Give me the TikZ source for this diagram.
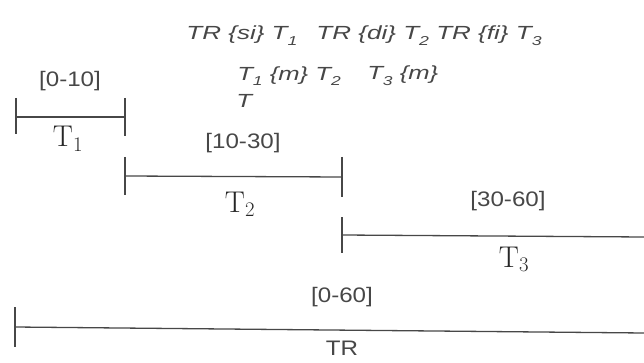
\documentclass[tikz,border=0pt]{standalone}
\usepackage{fontspec}
\setmainfont{Latin Modern Roman}
\newfontfamily\lsans{Liberation Sans}
\newcommand{\subi}[1]{\raisebox{-.3em}{\scalebox{.68}{#1}}}
\begin{document}
\begin{tikzpicture}[x=1pt,y=-1pt,
  bar/.style={draw=black!72,line width=1.3pt},
  rng/.style={font=\lsans\fontsize{21}{23}\selectfont,text=black!72,inner sep=0pt,xscale=1.15},
  lab/.style={font=\fontsize{30}{32}\selectfont,text=black!85,inner sep=0pt,anchor=base},
  rel/.style={font=\lsans\itshape\fontsize{19}{21}\selectfont,text=black!72,inner sep=0pt,xscale=1.35}]
\useasboundingbox (0,0) rectangle (644,363);
% coordinates of bars
\coordinate (a1) at (16,117);  \coordinate (b1) at (125,117);
\coordinate (a2) at (125,176); \coordinate (b2) at (342,177);
\coordinate (a3) at (342,235); \coordinate (b3) at (644,237);
\coordinate (a4) at (15,327);  \coordinate (b4) at (644,333);
% bars
\draw[bar] (a1) -- (b1);
\draw[bar] (a1) ++(0,-19) -- ++(0,36);
\draw[bar] (b1) ++(0,-19) -- ++(0,38);
\draw[bar] (a2) -- (b2);
\draw[bar] (a2) ++(0,-19) -- ++(0,38);
\draw[bar] (b2) ++(0,-20) -- ++(0,40);
\draw[bar] (a3) -- (b3);
\draw[bar] (a3) ++(0,-18) -- ++(0,36);
\draw[bar] (a4) -- (b4);
\draw[bar] (a4) ++(0,-20) -- ++(0,40);
% labels
\node[rng] (r1) at (70,81) {[0-10]};
\node[lab] (l1) at (68,147) {T$_1$};
\node[rng] (r2) at (243,143) {[10-30]};
\node[lab] (l2) at (240,212) {T$_2$};
\node[rng] (r3) at (508,201) {[30-60]};
\node[lab] (l3) at (514,267) {T$_3$};
\node[rng] (r4) at (342,297) {[0-60]};
\node[rng] (l4) at (342,348) {TR};
% relations
\node[rel,xscale=1.015] (top) at (364,36) {TR \{si\} T\subi{1}\hspace{.45em} TR \{di\} T\subi{2} TR \{fi\} T\subi{3}};
\node[rel,anchor=west] (m1) at (237,76) {T\subi{1} \{m\} T\subi{2}};
\node[rel,anchor=west] (m2) at (367,76) {T\subi{3} \{m\}};
\node[rel,anchor=west] (m3) at (236,101) {T};
\end{tikzpicture}
\end{document}
